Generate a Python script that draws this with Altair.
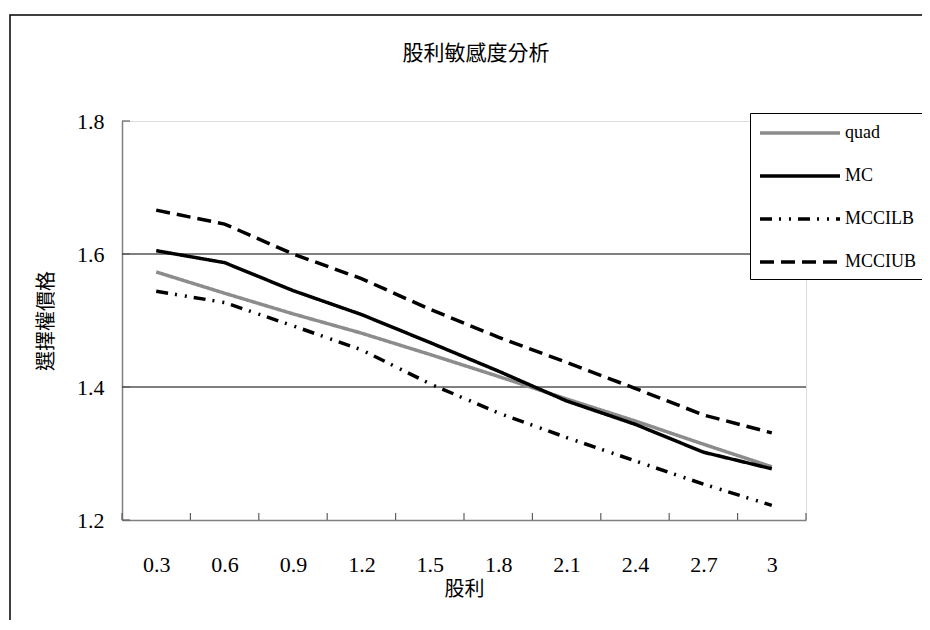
import altair as alt
import pandas as pd

dividends = [0.3, 0.6, 0.9, 1.2, 1.5, 1.8, 2.1, 2.4, 2.7, 3.0]
quad = [1.573, 1.541, 1.510, 1.481, 1.449, 1.416, 1.382, 1.349, 1.314, 1.280]
mc = [1.605, 1.587, 1.545, 1.509, 1.467, 1.424, 1.379, 1.344, 1.302, 1.277]
mccilb = [1.544, 1.527, 1.492, 1.456, 1.405, 1.361, 1.324, 1.289, 1.254, 1.222]
mcciub = [1.666, 1.645, 1.600, 1.563, 1.517, 1.475, 1.437, 1.398, 1.358, 1.331]
series_names = ["quad", "MC", "MCCILB", "MCCIUB"]
x_boundaries = [0.15, 0.45, 0.75, 1.05, 1.35, 1.65, 1.95, 2.25, 2.55, 2.85, 3.15]
y_ticks = [1.2, 1.4, 1.6, 1.8]
grid_values = [1.4, 1.6]

rows = []
for name, vals in zip(series_names, [quad, mc, mccilb, mcciub]):
    for d, v in zip(dividends, vals):
        rows.append({"股利": d, "value": v, "series": name})
df = pd.DataFrame(rows)

NUM_FONT = "Liberation Serif, Noto Sans CJK TC"
CJK_FONT = "Noto Sans CJK TC"
W, H = 684, 399

x_scale = alt.Scale(domain=[0.15, 3.15], nice=False, zero=False)
y_scale = alt.Scale(domain=[1.2, 1.8], nice=False, zero=False)

label_expr = "format(datum.value, '.1f') == '3.0' ? '3' : format(datum.value, '.1f')"

legend = alt.Legend(
    title=None, orient="none", legendX=628, legendY=-8,
    symbolType="M-4,0L4,0", symbolSize=400, symbolOffset=30,
    labelFont=NUM_FONT, labelFontSize=18, labelFontWeight="normal", labelColor="black",
    labelOffset=33, padding=8, strokeColor="black", fillColor="white",
    rowPadding=22, labelLimit=200,
)

lines = alt.Chart(df).mark_line(interpolate="linear").encode(
    x=alt.X("股利:Q", scale=x_scale,
            axis=alt.Axis(values=dividends, labelExpr=label_expr, ticks=False, grid=False,
                          domainColor="#808080", domainWidth=1.5,
                          labelFont=NUM_FONT, labelFontSize=22, labelColor="black",
                          labelPadding=34, labelFlush=False,
                          title="股利", titleFont=CJK_FONT, titleFontSize=20,
                          titleFontWeight="normal", titleColor="black", titlePadding=4)),
    y=alt.Y("value:Q", scale=y_scale,
            axis=alt.Axis(values=y_ticks, format=".1f", ticks=False, grid=False,
                          domainColor="#808080", domainWidth=1.5,
                          labelFont=NUM_FONT, labelFontSize=22, labelColor="black",
                          labelPadding=18, labelFlush=False,
                          title="選擇權價格", titleFont=CJK_FONT, titleFontSize=20,
                          titleFontWeight="normal", titleColor="black", titlePadding=20)),
    color=alt.Color("series:N", sort=series_names,
                    scale=alt.Scale(domain=series_names,
                                    range=["#8c8c8c", "#000000", "#000000", "#000000"]),
                    legend=legend),
    strokeDash=alt.StrokeDash("series:N", sort=series_names,
                              scale=alt.Scale(domain=series_names,
                                              range=[[1, 0], [1, 0], [12, 7, 2, 8, 2, 7], [14, 7]]),
                              legend=legend),
    strokeWidth=alt.StrokeWidth("series:N", sort=series_names,
                                scale=alt.Scale(domain=series_names, range=[3.5, 3.5, 2.2, 2.2]),
                                legend=legend),
)

grid = alt.Chart(pd.DataFrame({"g": grid_values})).mark_rule(color="black", strokeWidth=1).encode(
    y=alt.Y("g:Q", scale=y_scale), x=alt.value(0), x2=alt.value(W)
)

xticks = alt.Chart(pd.DataFrame({"b": x_boundaries})).mark_rule(color="#606060", strokeWidth=1.2).encode(
    x=alt.X("b:Q", scale=x_scale), y=alt.value(H - 7), y2=alt.value(H)
)

yticks = alt.Chart(pd.DataFrame({"t": y_ticks})).mark_rule(color="#606060", strokeWidth=1.2).encode(
    y=alt.Y("t:Q", scale=y_scale), x=alt.value(0), x2=alt.value(8)
)

border = alt.Chart(pd.DataFrame({"k": [0]})).mark_rect(
    fillOpacity=0, stroke="black", strokeWidth=1.5
).encode(x=alt.value(-112), x2=alt.value(900), y=alt.value(-106), y2=alt.value(560))

chart = alt.layer(border, grid, xticks, yticks, lines).properties(
    width=W, height=H,
    title=alt.TitleParams("股利敏感度分析", font=CJK_FONT, fontSize=21, fontWeight="normal",
                          color="black", anchor="middle", frame="group", offset=-50, dx=12),
    autosize=alt.AutoSizeParams(type="none"),
    padding={"left": 114, "top": 113, "right": 116, "bottom": 100},
).configure_view(stroke=None).configure(background="white")

chart.save("out.html", embed_options={"renderer": "svg", "actions": False})
